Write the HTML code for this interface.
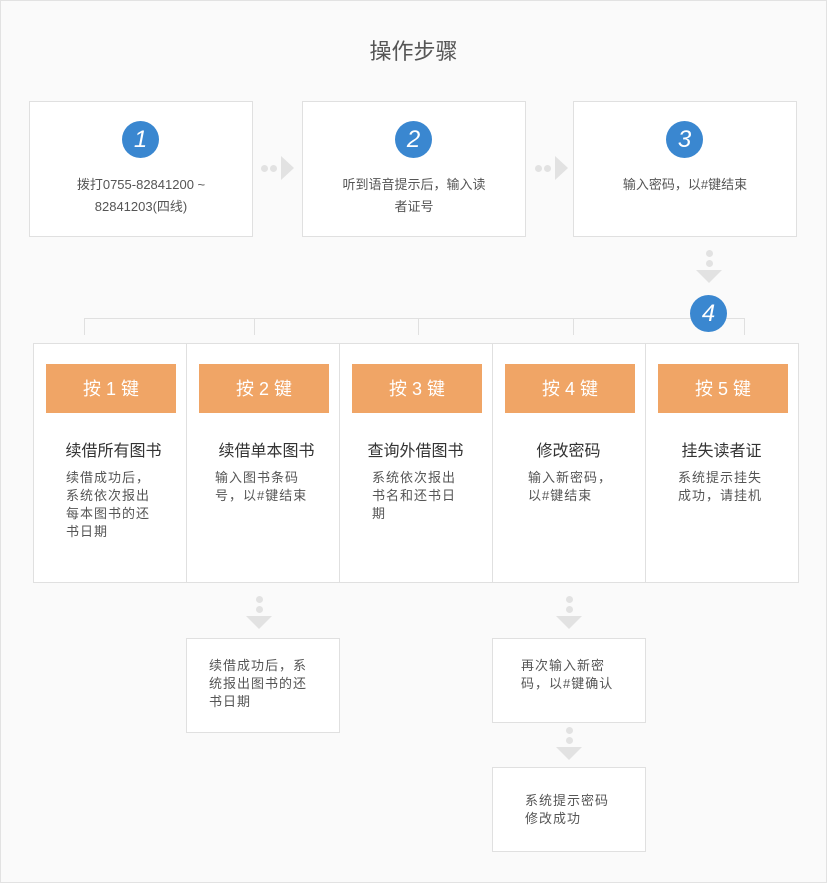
<!DOCTYPE html>
<html><head><meta charset="utf-8"><style>
*{margin:0;padding:0;box-sizing:border-box}
body{width:827px;height:883px;background:#fafafa;position:relative;overflow:hidden;font-family:"Liberation Sans","Noto Sans CJK SC",sans-serif;color:#555}
.frame{position:absolute;left:0;top:0;width:827px;height:883px;border:1px solid #e2e2e2}
.b{position:absolute;background:#fff;border:1px solid #e0e0e0}
.c{position:absolute;width:37px;height:37px;border-radius:50%;background:#3a87d0;color:#fff;font-size:24px;font-style:italic;text-align:center;line-height:37px}
.t{position:absolute;font-size:13px;line-height:22px;text-align:center;color:#555}
.dot{position:absolute;width:7px;height:7px;border-radius:50%;background:#e2e2e2}
.tri{position:absolute;width:0;height:0}
.ln{position:absolute;background:#e0e0e0}
.or{position:absolute;top:364px;width:130px;height:49px;background:#f0a566;color:#fff;font-size:18px;text-align:center;line-height:50px}
.h{position:absolute;top:437px;width:153px;text-align:center;font-size:16px;color:#333}
.d{position:absolute;top:467px;font-size:13px;line-height:18px;color:#555;letter-spacing:1px}
</style></head><body>
<div class="frame"></div>
<div style="position:absolute;left:0;width:827px;top:34px;text-align:center;font-size:22px;color:#555">操作步骤</div>

<div class="b" style="left:29px;top:101px;width:224px;height:136px"></div>
<div class="b" style="left:302px;top:101px;width:224px;height:136px"></div>
<div class="b" style="left:573px;top:101px;width:224px;height:136px"></div>
<div class="c" style="left:122px;top:121px">1</div>
<div class="c" style="left:395px;top:121px">2</div>
<div class="c" style="left:666px;top:121px">3</div>
<div class="t" style="left:29px;width:224px;top:174px">拨打0755-82841200 ~<br>82841203(四线)</div>
<div class="t" style="left:302px;width:224px;top:174px">听到语音提示后，输入读<br>者证号</div>
<div class="t" style="left:573px;width:224px;top:174px">输入密码，以#键结束</div>

<div class="dot" style="left:261px;top:165px"></div><div class="dot" style="left:270px;top:165px"></div>
<div class="tri" style="left:281px;top:156px;border-left:13px solid #e2e2e2;border-top:12px solid transparent;border-bottom:12px solid transparent"></div>
<div class="dot" style="left:535px;top:165px"></div><div class="dot" style="left:544px;top:165px"></div>
<div class="tri" style="left:555px;top:156px;border-left:13px solid #e2e2e2;border-top:12px solid transparent;border-bottom:12px solid transparent"></div>

<div class="dot" style="left:706px;top:250px"></div><div class="dot" style="left:706px;top:260px"></div>
<div class="tri" style="left:696px;top:270px;border-top:13px solid #e2e2e2;border-left:13px solid transparent;border-right:13px solid transparent"></div>

<div class="ln" style="left:84px;top:318px;width:661px;height:1px"></div>
<div class="ln" style="left:84px;top:318px;width:1px;height:17px"></div>
<div class="ln" style="left:254px;top:318px;width:1px;height:17px"></div>
<div class="ln" style="left:418px;top:318px;width:1px;height:17px"></div>
<div class="ln" style="left:573px;top:318px;width:1px;height:17px"></div>
<div class="ln" style="left:744px;top:318px;width:1px;height:17px"></div>
<div class="c" style="left:690px;top:295px">4</div>

<div class="b" style="left:33px;top:343px;width:766px;height:240px"></div>
<div class="ln" style="left:186px;top:343px;width:1px;height:240px"></div>
<div class="ln" style="left:339px;top:343px;width:1px;height:240px"></div>
<div class="ln" style="left:492px;top:343px;width:1px;height:240px"></div>
<div class="ln" style="left:645px;top:343px;width:1px;height:240px"></div>

<div class="or" style="left:46px">按 1 键</div>
<div class="or" style="left:199px">按 2 键</div>
<div class="or" style="left:352px">按 3 键</div>
<div class="or" style="left:505px">按 4 键</div>
<div class="or" style="left:658px">按 5 键</div>

<div class="h" style="left:37px">续借所有图书</div>
<div class="h" style="left:190px">续借单本图书</div>
<div class="h" style="left:339px">查询外借图书</div>
<div class="h" style="left:492px">修改密码</div>
<div class="h" style="left:645px">挂失读者证</div>

<div class="d" style="left:66px;top:469px">续借成功后，<br>系统依次报出<br>每本图书的还<br>书日期</div>
<div class="d" style="left:215px;top:469px">输入图书条码<br>号，以#键结束</div>
<div class="d" style="left:372px;top:469px">系统依次报出<br>书名和还书日<br>期</div>
<div class="d" style="left:528px;top:469px">输入新密码，<br>以#键结束</div>
<div class="d" style="left:678px;top:469px">系统提示挂失<br>成功，请挂机</div>

<div class="dot" style="left:256px;top:596px"></div><div class="dot" style="left:256px;top:606px"></div>
<div class="tri" style="left:246px;top:616px;border-top:13px solid #e2e2e2;border-left:13px solid transparent;border-right:13px solid transparent"></div>
<div class="dot" style="left:566px;top:596px"></div><div class="dot" style="left:566px;top:606px"></div>
<div class="tri" style="left:556px;top:616px;border-top:13px solid #e2e2e2;border-left:13px solid transparent;border-right:13px solid transparent"></div>
<div class="dot" style="left:566px;top:727px"></div><div class="dot" style="left:566px;top:737px"></div>
<div class="tri" style="left:556px;top:747px;border-top:13px solid #e2e2e2;border-left:13px solid transparent;border-right:13px solid transparent"></div>

<div class="b" style="left:186px;top:638px;width:154px;height:95px"></div>
<div class="d" style="left:209px;top:657px">续借成功后，系<br>统报出图书的还<br>书日期</div>
<div class="b" style="left:492px;top:638px;width:154px;height:85px"></div>
<div class="d" style="left:521px;top:657px">再次输入新密<br>码，以#键确认</div>
<div class="b" style="left:492px;top:767px;width:154px;height:85px"></div>
<div class="d" style="left:525px;top:792px">系统提示密码<br>修改成功</div>
</body></html>
